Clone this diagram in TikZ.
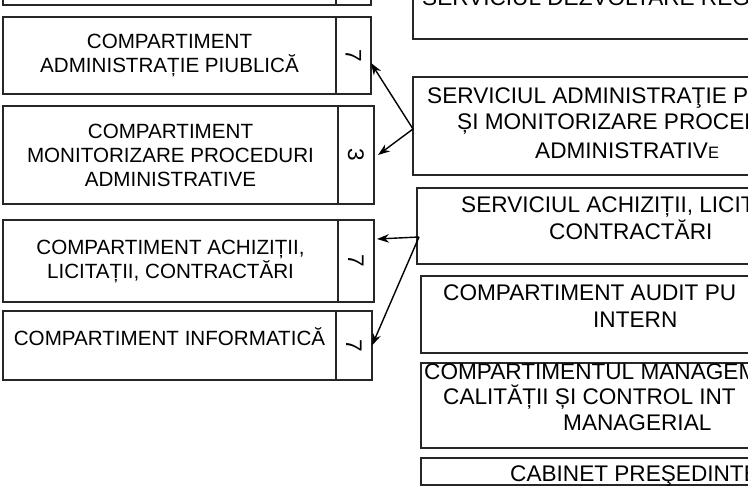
\documentclass[tikz,border=0pt]{standalone}
\usepackage{fontspec}
\setmainfont{Liberation Sans}
\usetikzlibrary{positioning,arrows.meta}

\begin{document}
\begin{tikzpicture}[
        x                 = 1pt,
        y                 = -1pt,
        font              = \fontsize{20.6}{24}\selectfont,
        compart/.style    = {draw=black!85, line width=1.2pt, outer sep=0pt, inner sep=2pt, align=center},
        nr/.style         = {draw=black!85, line width=1.2pt, outer sep=0pt, inner sep=0pt, font=\fontsize{22.6}{24}\selectfont},
        serv/.style       = {draw=black!85, line width=1.2pt, outer sep=0pt, anchor=north west, minimum width=400pt},
        rtext/.style      = {anchor=base west, inner sep=0pt, font=\fontsize{22.6}{27}\selectfont},
        arr/.style        = {line width=1.4pt, -{Stealth[length=12pt,width=8.5pt]}},
      ]
        \useasboundingbox (0,0) rectangle (748,495);
        \clip (0,0) rectangle (748,495);

        % compartimente (stanga)
        \node[compart, anchor=south west, minimum width=333pt, minimum height=80pt] (top) at (3,5) {};
        \node[nr, minimum width=35pt, minimum height=80pt, right=0pt of top] (topn) {};
        \node[compart, minimum width=333pt, minimum height=77pt] (ap) at (169.5,55.5)
            {COMPARTIMENT\\ADMINISTRAȚIE PIUBLICĂ};
        \node[nr, minimum width=35pt, minimum height=77pt, right=0pt of ap] (apn) {\rotatebox{-90}{7}};
        \node[compart, minimum width=335pt, minimum height=98pt] (mp) at (170.5,155)
            {COMPARTIMENT\\MONITORIZARE PROCEDURI\\ADMINISTRATIVE};
        \node[nr, minimum width=36pt, minimum height=98pt, right=0pt of mp] (mpn) {\rotatebox{-90}{3}};
        \node[compart, minimum width=335pt, minimum height=82pt] (ac) at (170.5,261)
            {COMPARTIMENT ACHIZIȚII,\\LICITAȚII, CONTRACTĂRI};
        \node[nr, minimum width=36pt, minimum height=82pt, right=0pt of ac] (acn) {\rotatebox{-90}{7}};
        \node[compart, minimum width=333pt, minimum height=69pt, text depth=18pt] (inf) at (169.5,345.5)
            {COMPARTIMENT INFORMATICĂ};
        \node[nr, minimum width=36pt, minimum height=69pt, right=0pt of inf] (infn) {\rotatebox{-90}{7}};

        % servicii (dreapta)
        \node[serv, anchor=south west, minimum height=80pt] (dr) at (413,39) {};
        \node[serv, minimum height=98pt] (sa) at (413,77) {};
        \node[serv, minimum height=76pt] (sac) at (417,188) {};
        \node[serv, minimum height=77pt] (aud) at (421,276) {};
        \node[serv, minimum height=85pt] (cal) at (421,363) {};
        \node[serv, minimum height=27pt] (cab) at (421,458) {};

        \node[rtext] (dr1) at (422,6) {SERVICIUL DEZVOLTARE REG};
        \node[rtext] (sa1) at (427,104) {SERVICIUL ADMINISTRAŢIE P};
        \node[rtext] (sa2) at (457,129) {ȘI MONITORIZARE PROCED};
        \node[rtext] (sa3) at (535,158) {ADMINISTRATIV{\fontsize{16.5}{18}\selectfont E}};
        \node[rtext] (sac1) at (461,212) {SERVICIUL ACHIZIȚII, LICIT};
        \node[rtext] (sac2) at (549,239) {CONTRACTĂRI};
        \node[rtext] (aud1) at (443,300) {COMPARTIMENT AUDIT PU};
        \node[rtext] (aud2) at (593,327) {INTERN};
        \node[rtext] (cal1) at (424,379) {COMPARTIMENTUL MANAGEM};
        \node[rtext] (cal2) at (443,404) {CALITĂȚII ȘI CONTROL INT};
        \node[rtext] (cal3) at (563,430) {MANAGERIAL};
        \node[rtext] (cab1) at (510,481) {CABINET PREŞEDINTE};

        % legaturi
        \coordinate (ja) at ([yshift=-3pt]sa.west);
        \draw[arr] (ja) -- ([yshift=-7.5pt]apn.east);
        \draw[arr] (ja) -- ([xshift=4pt]mpn.east);
        \coordinate (jb) at ([xshift=2pt,yshift=-11pt]sac.west);
        \draw[arr] (jb) -- ([xshift=3pt,yshift=22pt]acn.east);
        \draw[arr] (jb) -- (infn.east);
    \end{tikzpicture}
\end{document}
